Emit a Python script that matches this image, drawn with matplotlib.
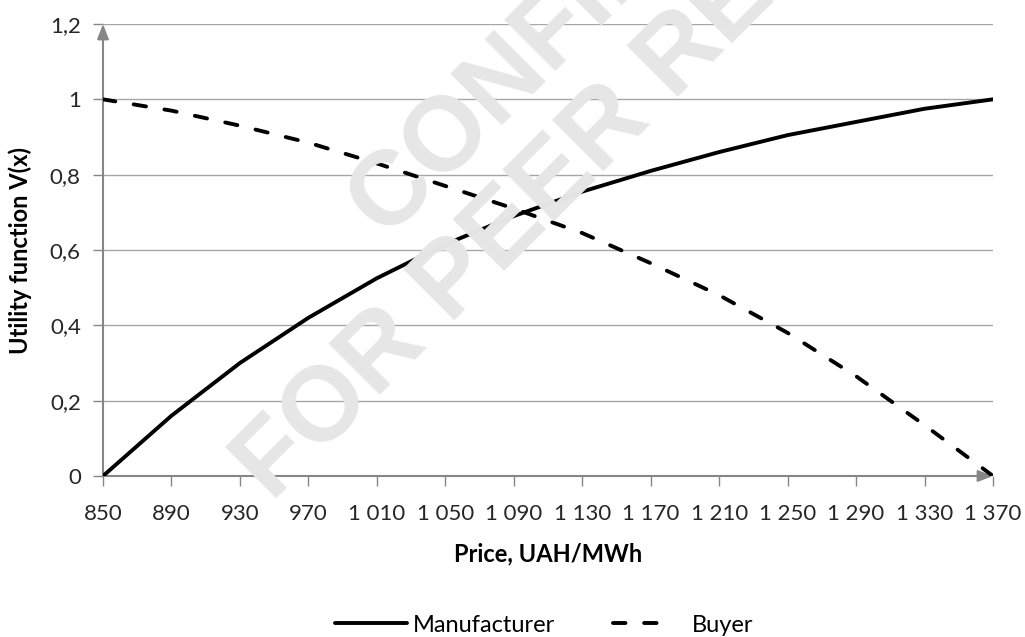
import matplotlib.pyplot as plt
from matplotlib.lines import Line2D

# data
price = [850, 890, 930, 970, 1010, 1050, 1090, 1130, 1170, 1210, 1250, 1290, 1330, 1370]
manufacturer = [0.0, 0.16, 0.30, 0.42, 0.525, 0.615, 0.69, 0.755, 0.81, 0.86, 0.905, 0.94, 0.975, 1.0]
buyer = [1.0, 0.97, 0.93, 0.885, 0.83, 0.77, 0.71, 0.645, 0.565, 0.48, 0.38, 0.265, 0.135, 0.0]
price_labels = ['850', '890', '930', '970', '1 010', '1 050', '1 090', '1 130',
                '1 170', '1 210', '1 250', '1 290', '1 330', '1 370']
y_ticks = [0, 0.2, 0.4, 0.6, 0.8, 1.0, 1.2]
y_labels = ['0', '0,2', '0,4', '0,6', '0,8', '1', '1,2']

plt.rcParams['font.family'] = ['Lato', 'DejaVu Sans']

W, H = 1025, 637
fig = plt.figure(figsize=(W/100., H/100.), dpi=100)
ax = fig.add_axes([103./W, 1-476./H, 890./W, 452./H])
ax.patch.set_alpha(0)

# watermark (cut by the page edge, as in the original)
wm = dict(family='Liberation Sans', weight='bold', fontsize=76, color='#e6e6e6',
          rotation=45, rotation_mode='anchor', ha='left', va='baseline', zorder=0)
fig.text(385./W, 1-238./H, 'CONFIDENTIAL', **wm)
fig.text(272./W, 1-503./H, 'FOR PEER REVIEW', **wm)

for y in y_ticks[1:]:
    ax.axhline(y, color='#a6a6a6', lw=1.0, zorder=1)

ln_m, = ax.plot(price, manufacturer, color='black', lw=2.8, zorder=3,
                solid_capstyle='round', solid_joinstyle='round')
ln_b, = ax.plot(price, buyer, color='black', lw=2.8, dashes=(3.2, 4.8),
                dash_capstyle='round', zorder=3)

# axes drawn as arrows
axc = '#868686'
arr = dict(arrowstyle='-|>,head_length=0.9,head_width=0.35', color=axc, lw=1.5,
           shrinkA=0, shrinkB=0)
ax.annotate('', xy=(1370, 0), xytext=(850, 0), arrowprops=arr, zorder=2)
ax.annotate('', xy=(850, 1.2), xytext=(850, 0), arrowprops=arr, zorder=2)

for s in ax.spines.values():
    s.set_visible(False)

ax.set_xlim(850, 1370)
ax.set_ylim(0, 1.2)
ax.set_xticks(price)
ax.set_xticklabels(price_labels)
ax.set_yticks(y_ticks)
ax.set_yticklabels(y_labels)
ax.tick_params(axis='x', length=7, width=1.0, color=axc, pad=13, labelsize=16, labelcolor='#262626')
ax.tick_params(axis='y', length=7, width=1.0, color=axc, pad=9, labelsize=16, labelcolor='#262626')

fig.text(548./W, 1-554./H, 'Price, UAH/MWh', ha='center', va='center',
         fontsize=17, weight='bold', color='black')
fig.text(20./W, 1-250./H, 'Utility function V(x)', ha='center', va='center',
         rotation=90, fontsize=17, weight='bold', color='black')

# legend: two entries placed like the original
fs = 17
px = fs * 100 / 72.
leg1 = fig.legend([ln_m], ['Manufacturer'], loc='center left',
                  bbox_to_anchor=(335./W, 1-625./H), frameon=False, fontsize=fs,
                  handlelength=72/px, handletextpad=6/px, borderpad=0, borderaxespad=0)
fig.legend([ln_b], ['Buyer'], loc='center left',
           bbox_to_anchor=(613./W, 1-625./H), frameon=False, fontsize=fs,
           handlelength=54/px, handletextpad=25/px, borderpad=0, borderaxespad=0)

fig.savefig('out.png', dpi=100)
